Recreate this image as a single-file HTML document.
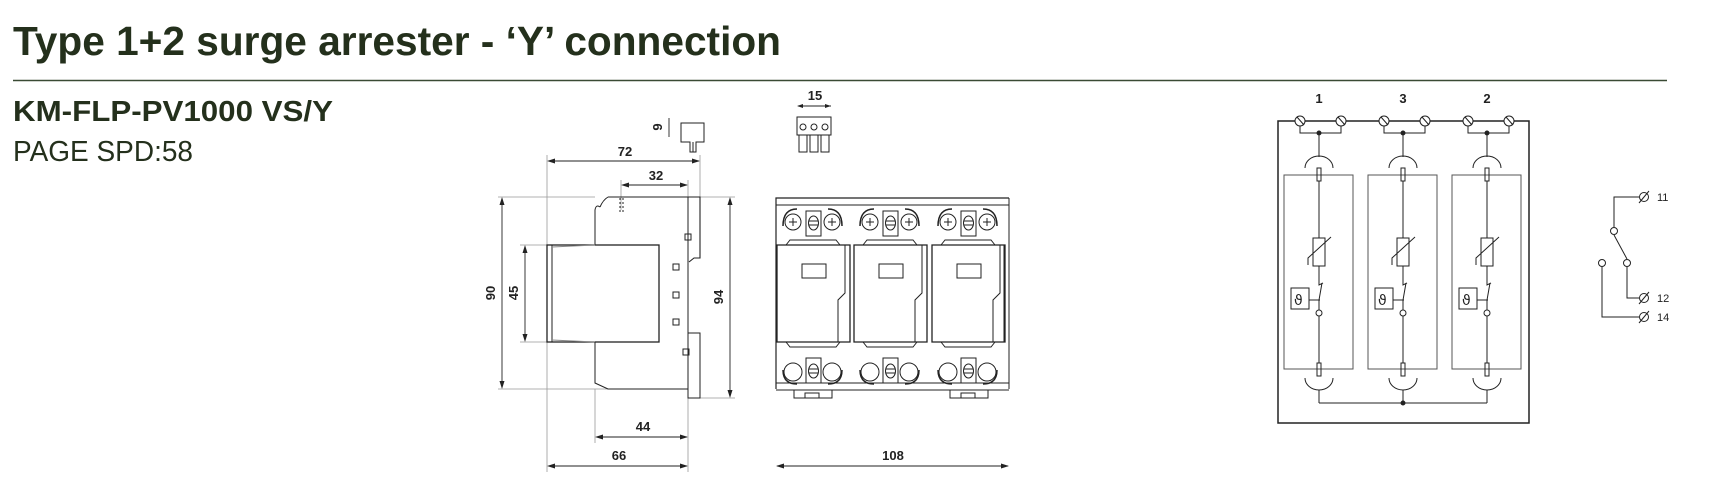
<!DOCTYPE html>
<html><head><meta charset="utf-8"><style>
html,body{margin:0;padding:0;background:#fff;}
svg{display:block;}
</style></head><body>
<svg width="1715" height="504" viewBox="0 0 1715 504" xmlns="http://www.w3.org/2000/svg" font-family="Liberation Sans, sans-serif">
<text x="13" y="55" font-size="41" font-weight="bold" fill="#24301c" textLength="768" lengthAdjust="spacingAndGlyphs">Type 1+2 surge arrester - ‘Y’ connection</text>
<line x1="13" y1="80.5" x2="1667" y2="80.5" stroke="#3a4a34" stroke-width="1.6"/>
<text x="13" y="121" font-size="29" font-weight="bold" fill="#24301c" textLength="320" lengthAdjust="spacingAndGlyphs">KM-FLP-PV1000 VS/Y</text>
<text x="13" y="161" font-size="29" fill="#24301c" textLength="180" lengthAdjust="spacingAndGlyphs">PAGE SPD:58</text>

<g stroke="#222" fill="none" stroke-width="1">
<g stroke="#999" stroke-width="0.8">
<line x1="498" y1="197" x2="595" y2="197"/><line x1="498" y1="389" x2="608" y2="389"/>
<line x1="520" y1="245" x2="547" y2="245"/><line x1="520" y1="342" x2="547" y2="342"/>
<line x1="547" y1="155" x2="547" y2="472"/><line x1="595" y1="389" x2="595" y2="443"/>
<line x1="688" y1="180" x2="688" y2="472"/><line x1="700" y1="155" x2="700" y2="197"/>
<line x1="621" y1="180" x2="621" y2="210"/>
<line x1="700" y1="197" x2="735" y2="197"/><line x1="700" y1="398" x2="735" y2="398"/>
</g>
<g stroke="#222" stroke-width="0.9">
<line x1="502" y1="199" x2="502" y2="387"/><line x1="525" y1="247" x2="525" y2="340"/>
<line x1="730" y1="199" x2="730" y2="396"/>
<line x1="549" y1="161" x2="699" y2="161"/><line x1="623" y1="185" x2="687" y2="185"/>
<line x1="597" y1="437" x2="687" y2="437"/><line x1="549" y1="466" x2="687" y2="466"/>
<line x1="777" y1="466" x2="1008" y2="466"/><line x1="798" y1="106" x2="831" y2="106"/>
<line x1="669" y1="118" x2="669" y2="137"/>
</g>
<g fill="#222" stroke="none">
<path d="M502 197l-2.5 8h5z M502 389l-2.5-8h5z M525 245l-2.5 8h5z M525 342l-2.5-8h5z M730 197l-2.5 8h5z M730 398l-2.5-8h5z"/>
<path d="M547 161l8-2.5v5z M700 161l-8-2.5v5z M621 185l8-2.5v5z M688 185l-8-2.5v5z M595 437l8-2.5v5z M688 437l-8-2.5v5z M547 466l8-2.5v5z M688 466l-8-2.5v5z M776 466l8-2.5v5z M1009 466l-8-2.5v5z M797 106l6-2v4z M831 106l-6-2v4z"/>
</g>
<path d="M608 197H700V258H694L689 262" stroke-width="1.1"/>
<path d="M600 207Q603 200 608 197" />
<path d="M595 245V210Q596 204 600 207"/>
<rect x="547" y="245" width="112" height="97" stroke-width="1.3"/>
<line x1="552" y1="245" x2="552" y2="342"/>
<path d="M552 247L595 245M552 340L595 342" stroke="#888"/>
<path d="M595 342V383L608 389H688V398H700V333H688V260"/>
<line x1="688" y1="197" x2="688" y2="398"/>
<line x1="620" y1="198" x2="620" y2="212" stroke-dasharray="2 2"/><line x1="623" y1="198" x2="623" y2="212" stroke-dasharray="2 2"/>
<rect x="685" y="234" width="6" height="6"/><rect x="673" y="264" width="6" height="6"/><rect x="673" y="292" width="6" height="6"/><rect x="673" y="319" width="6" height="6"/><rect x="683" y="349" width="6" height="6"/>
<path d="M681 123H704V142H696V152H690V142H681Z"/><line x1="693" y1="142" x2="693" y2="152"/>
<rect x="797" y="117" width="34" height="18"/>
<rect x="799" y="135" width="8" height="17"/><rect x="810" y="135" width="8" height="17"/><rect x="821" y="135" width="8" height="17"/>
<circle cx="803" cy="127" r="3"/><circle cx="814" cy="127" r="3"/><circle cx="825" cy="127" r="3"/>
<path d="M776 389V198H1009" stroke-width="1.2"/>
<line x1="776" y1="205" x2="1009" y2="205"/>
<line x1="776" y1="383" x2="1009" y2="383"/>
<line x1="776" y1="390" x2="1009" y2="390"/>
<path d="M1009 198V389"/>
<g id="m">
<path d="M783 226Q783 209 797 209M842 226Q842 209 828 209" stroke-width="1.5"/>
<circle cx="793" cy="222" r="8"/><circle cx="832" cy="222" r="8"/>
<path d="M789 222h8M793 218v8M828 222h8M832 218v8"/>
<rect x="806" y="211" width="15" height="25"/><ellipse cx="813.5" cy="223" rx="5" ry="7"/><path d="M809 221h9M809 225h9"/>
<path d="M786 245L790 240H836L840 245"/>
<path d="M777 245H850V342H777Z" stroke-width="1.3"/>
<path d="M845 245V293L838 300V342"/>
<rect x="802" y="264" width="24" height="14"/>
<path d="M786 342L790 347H836L840 342"/>
<circle cx="793" cy="372" r="9"/><circle cx="832" cy="372" r="9"/>
<path d="M783 370Q783 384 797 384M842 370Q842 384 828 384" stroke-width="1.5"/>
<rect x="806" y="358" width="15" height="25"/><ellipse cx="813.5" cy="371" rx="5" ry="7"/><path d="M809 369h9M809 373h9"/>
</g>
<use href="#m" x="77"/><use href="#m" x="155"/>
<line x1="1004" y1="245" x2="1004" y2="342"/>
<rect x="794" y="390" width="38" height="8"/><rect x="805" y="393" width="14" height="5"/>
<rect x="950" y="390" width="38" height="8"/><rect x="961" y="393" width="14" height="5"/>

<path d="M1278 423V121H1529V423Z" stroke-width="1.5"/>
<g id="s">
<circle cx="1300" cy="121" r="5" fill="#fff"/><circle cx="1341" cy="121" r="5" fill="#fff"/>
<path d="M1297 117l7 8M1338 117l7 8"/>
<path d="M1300 126V133H1341V126M1319 133V157"/>
<path d="M1305 168A14 12 0 0 1 1333 168"/>
<rect x="1284" y="175" width="69" height="194" stroke="#555"/>
<rect x="1317" y="168" width="4" height="13"/>
<path d="M1319 181V238M1319 266V285l4-2M1322 283L1319 300V310"/>
<rect x="1313" y="238" width="12" height="28"/>
<path d="M1308 265V258L1331 237"/>
<rect x="1291" y="288" width="18" height="21"/>
<path d="M1309 300H1320"/>
<text x="1294" y="305" font-size="14" fill="#222" stroke="none" font-family="DejaVu Sans, sans-serif">ϑ</text>
<circle cx="1319" cy="313" r="3"/>
<path d="M1319 316V363"/>
<rect x="1317" y="363" width="4" height="13"/>
<path d="M1305 378A14 12 0 0 0 1333 378"/>
<path d="M1319 390V403"/>
</g>
<use href="#s" x="84"/><use href="#s" x="168"/>
<path d="M1346 121H1377M1430 121H1461"/>
<path d="M1319 403H1487"/>
<circle cx="1319" cy="133" r="2" fill="#222"/><circle cx="1403" cy="133" r="2" fill="#222"/><circle cx="1487" cy="133" r="2" fill="#222"/><circle cx="1403" cy="403" r="2" fill="#222"/>
<path d="M1639 197H1614V227M1614 235L1627 259M1627 267V298H1639M1602 267V317H1639"/>
<circle cx="1614" cy="231" r="3.5"/><circle cx="1627" cy="263" r="3.5"/><circle cx="1602" cy="263" r="3.5"/>
<circle cx="1644" cy="197" r="4.5"/><circle cx="1644" cy="298" r="4.5"/><circle cx="1644" cy="317" r="4.5"/>
<path d="M1639 203l10-12M1639 304l10-12M1639 323l10-12"/>
</g>
<g font-size="13" font-weight="bold" fill="#222" text-anchor="middle">
<text x="815" y="100">15</text>
<text x="625" y="156">72</text>
<text x="656" y="180">32</text>
<text x="643" y="431">44</text>
<text x="619" y="460">66</text>
<text x="893" y="460">108</text>
<text transform="translate(495 293) rotate(-90)">90</text>
<text transform="translate(518 293) rotate(-90)">45</text>
<text transform="translate(723 297) rotate(-90)">94</text>
<text transform="translate(662 127) rotate(-90)">9</text>
<text x="1319" y="103">1</text><text x="1403" y="103">3</text><text x="1487" y="103">2</text>
</g>
<g font-size="11" fill="#222">
<text x="1657" y="201">11</text><text x="1657" y="302">12</text><text x="1657" y="321">14</text>
</g>
</svg>
</body></html>
